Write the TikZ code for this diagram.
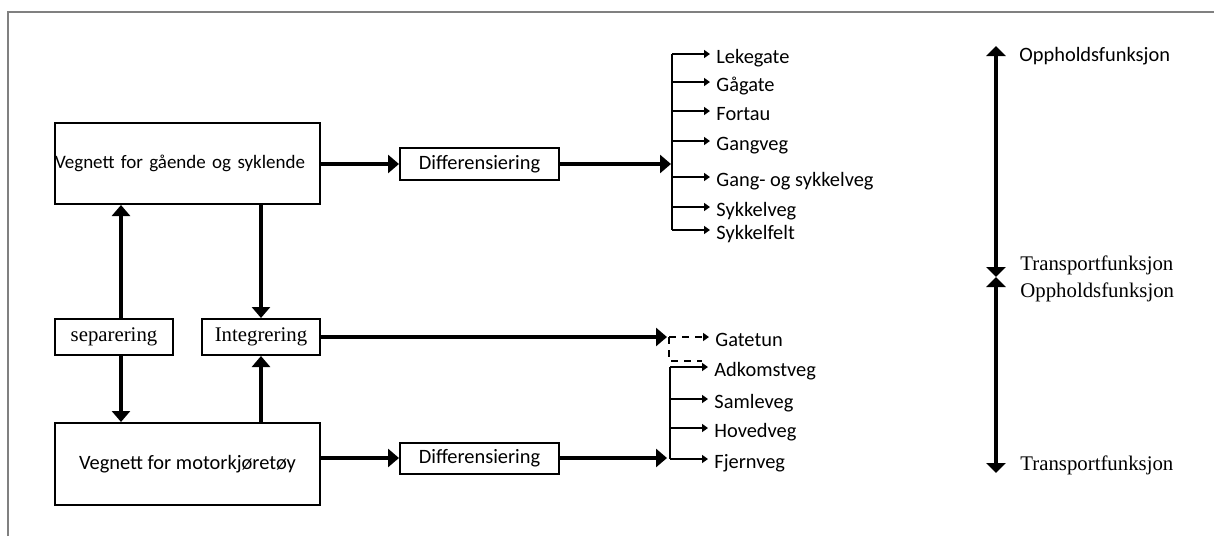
\documentclass[tikz,border=0pt]{standalone}
\usepackage{fontspec}
\setmainfont{Liberation Serif}
\newfontfamily\calib{Carlito}
\usetikzlibrary{arrows.meta}
\begin{document}
\begin{tikzpicture}[x=0.5pt,y=-0.5pt,
  box/.style={draw, line width=1pt, inner sep=0pt},
  sans/.style={font=\calib\fontsize{10.2}{12}\selectfont},
  serif/.style={font=\fontsize{10.4}{12}\selectfont},
  arr/.style={line width=1.6pt, -{Triangle[length=5.5pt,width=9pt]}},
  dbl/.style={line width=1.6pt, {Triangle[length=5pt,width=9.5pt]}-{Triangle[length=5pt,width=9.5pt]}},
  bus/.style={line width=1pt},
  br/.style={line width=1pt, -{Triangle[length=3pt,width=4pt]}},
  item/.style={sans, anchor=west, inner xsep=3pt, inner ysep=0pt, text height=9pt, text depth=0pt},
  dsh/.style={line width=1pt, dash pattern=on 3.5pt off 3pt},
  lab/.style={anchor=west, inner sep=0pt},
]
\useasboundingbox (0,0) rectangle (1214,536);
\draw[gray, line width=0.8pt] (8,536) -- (8,12) -- (1214,12);

% left boxes
\node[box, font=\calib\fontsize{9.5}{12}\selectfont, minimum height=40.5pt, text width=132.5pt, align=left] (b1) at (187.5,163.5) {Vegnett for gående og syklende};
\node[box, sans, minimum width=132.5pt, minimum height=41pt] (b2) at (187.5,464) {Vegnett for motorkjøretøy};
\node[box, sans, minimum width=79.5pt, minimum height=16pt] (d1) at (479.5,164) {Differensiering};
\node[box, sans, minimum width=79.5pt, minimum height=15.5pt] (d2) at (479.5,458) {Differensiering};
\node[box, serif, minimum width=59pt, minimum height=18pt] (sep) at (114,337) {separering};
\node[box, serif, minimum width=59pt, minimum height=18pt] (int) at (261,337) {Integrering};

% vertical connectors
\draw[arr] ([xshift=3.5pt]sep.north) -- ([xshift=3.5pt]sep.north |- b1.south);
\draw[arr] ([xshift=3.5pt]sep.south) -- ([xshift=3.5pt]sep.south |- b2.north);
\draw[arr] (int.north |- b1.south) -- (int.north);
\draw[arr] (int.south |- b2.north) -- (int.south);

% upper branch
\draw[arr] (b1.east |- d1.west) -- (d1.west);
\coordinate (j1) at (671,164);
\draw[arr] (d1.east) -- (j1);
\coordinate (bt) at (672,54);
\coordinate (bb) at (672,230);
\draw[bus] (bt) -- (bb);
\node[item] (i1) at (710,54) {Lekegate};
\node[item] (i2) at (710,82) {Gågate};
\node[item] (i3) at (710,111) {Fortau};
\node[item] (i4) at (710,141) {Gangveg};
\node[item] (i5) at (710,177) {Gang- og sykkelveg};
\node[item] (i6) at (710,207) {Sykkelveg};
\node[item] (i7) at (710,230) {Sykkelfelt};
\foreach \n in {1,...,7} \draw[br] (bt |- i\n.west) -- (i\n.west);

% integration line
\coordinate (j2) at (667,337);
\draw[arr] (int.east) -- (j2);
\node[item] (g0) at (709,337) {Gatetun};
\coordinate (k) at (669,337);
\coordinate (k2) at (669,361);
\coordinate (k3) at (702,361);
\draw[dsh, -{Triangle[length=3pt,width=4pt]}] (k) -- (g0.west);
\draw[dsh] (k) -- (k2) -- (k3);

% lower branch
\draw[arr] (b2.east |- d2.west) -- (d2.west);
\coordinate (j3) at (667,458);
\draw[arr] (d2.east) -- (j3);
\coordinate (ct) at (670,367);
\coordinate (cb) at (670,459);
\draw[bus] (ct) -- (cb);
\node[item] (m1) at (708,367) {Adkomstveg};
\node[item] (m2) at (708,399) {Samleveg};
\node[item] (m3) at (708,428) {Hovedveg};
\node[item] (m4) at (708,459) {Fjernveg};
\foreach \n in {1,...,4} \draw[br] (ct |- m\n.west) -- (m\n.west);

% right scale
\coordinate (a1) at (996,46);
\coordinate (a2) at (996,277);
\coordinate (a3) at (996,473);
\draw[dbl] (a1) -- (a2);
\draw[dbl] (a2) -- (a3);
\node[lab, sans] (o1) at (1019,56) {Oppholdsfunksjon};
\node[lab, serif] (t1) at (1020,265) {Transportfunksjon};
\node[lab, serif] (o2) at (1020,292) {Oppholdsfunksjon};
\node[lab, serif] (t2) at (1020,465) {Transportfunksjon};
\end{tikzpicture}
\end{document}
